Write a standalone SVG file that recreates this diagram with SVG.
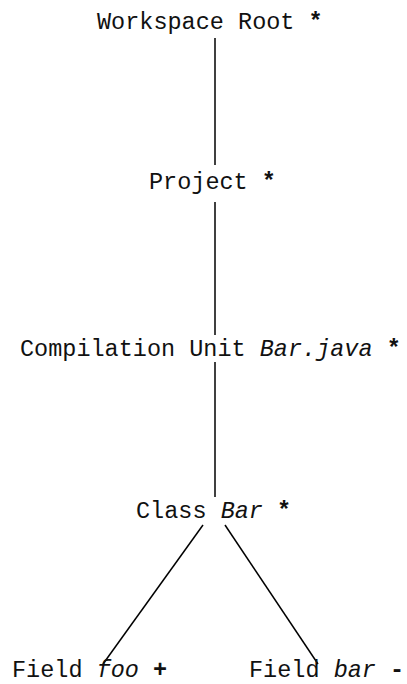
<svg xmlns="http://www.w3.org/2000/svg" width="407" height="684" viewBox="0 0 407 684">
<style>
text { font-family: "Liberation Mono", "Courier New", monospace; font-size: 23.5px; fill: #111; }
.i { font-style: italic; }
.b { font-weight: bold; }
.edge { stroke: #000; stroke-width: 1.5; fill: none; }
</style>
<rect width="407" height="684" fill="#fff"/>
<g id="connectors">
<line class="edge" x1="215" y1="38" x2="215" y2="165"/>
<line class="edge" x1="215" y1="202" x2="215" y2="335"/>
<line class="edge" x1="215" y1="362" x2="215" y2="497"/>
<line class="edge" x1="203" y1="525" x2="103" y2="664"/>
<line class="edge" x1="225" y1="525" x2="318" y2="664"/>
</g>
<g id="workspace-root"><text x="97" y="29">Workspace Root <tspan class="b">*</tspan></text></g>
<g id="project"><text x="149" y="189">Project <tspan class="b">*</tspan></text></g>
<g id="compilation-unit"><text x="20" y="356">Compilation Unit <tspan class="i">Bar.java</tspan> <tspan class="b">*</tspan></text></g>
<g id="class-bar"><text x="136" y="518">Class <tspan class="i">Bar</tspan> <tspan class="b">*</tspan></text></g>
<g id="field-foo"><text x="12" y="677">Field <tspan class="i">foo</tspan> <tspan class="b">+</tspan></text></g>
<g id="field-bar"><text x="249" y="677">Field <tspan class="i">bar</tspan> <tspan class="b">-</tspan></text></g>
</svg>
